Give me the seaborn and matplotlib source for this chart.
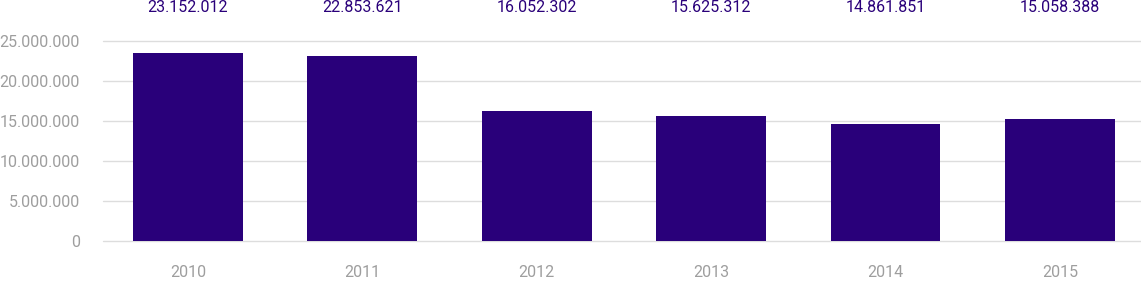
import matplotlib
matplotlib.use("Agg")
import matplotlib.pyplot as plt
import seaborn as sns
import pandas as pd
from matplotlib.ticker import FuncFormatter

years = ["2010", "2011", "2012", "2013", "2014", "2015"]
values = [23540000, 23160000, 16290000, 15660000, 14660000, 15290000]
value_labels = ["23.152.012", "22.853.621", "16.052.302", "15.625.312", "14.861.851", "15.058.388"]

sns.set_style("white")
plt.rcParams['font.family'] = ['Roboto', 'DejaVu Sans']

W, H = 1141, 306
fig = plt.figure(figsize=(W / 100, H / 100), dpi=100)
ax_left = 103 / W
ax_bottom = (H - 241.3) / H
ax_height = 208 / H
ax = fig.add_axes([ax_left, ax_bottom, 1 - ax_left, ax_height])

df = pd.DataFrame({"year": years, "value": values})
sns.barplot(data=df, x="year", y="value", color="#29007a", saturation=1,
            width=0.63, ax=ax, linewidth=0, zorder=3)

ax.set_ylim(0, 26000000)
ax.set_xlim(-0.487, 5.465)
ax.set_yticks([0, 5000000, 10000000, 15000000, 20000000, 25000000])
ax.yaxis.set_major_formatter(FuncFormatter(lambda v, p: f"{int(v):,}".replace(",", ".")))
ax.grid(axis="y", color="#dddddd", linewidth=1, zorder=0)
ax.set_axisbelow(True)
for gl in ax.get_ygridlines():
    gl.set_clip_on(False)
for s in ax.spines.values():
    s.set_visible(False)
ax.set_xlabel("")
ax.set_ylabel("")
ax.tick_params(axis="y", length=0, pad=16.5, labelsize=11.5, labelcolor="#9e9e9e")
ax.tick_params(axis="x", length=0, pad=17, labelsize=11.5, labelcolor="#9e9e9e")

for i, lab in enumerate(value_labels):
    ax.annotate(lab, xy=(i, 1 - 8 / H), xycoords=("data", "figure fraction"),
                ha="center", va="center", fontsize=11.5, color="#2a007a",
                annotation_clip=False)

fig.savefig("out.png", dpi=100)
